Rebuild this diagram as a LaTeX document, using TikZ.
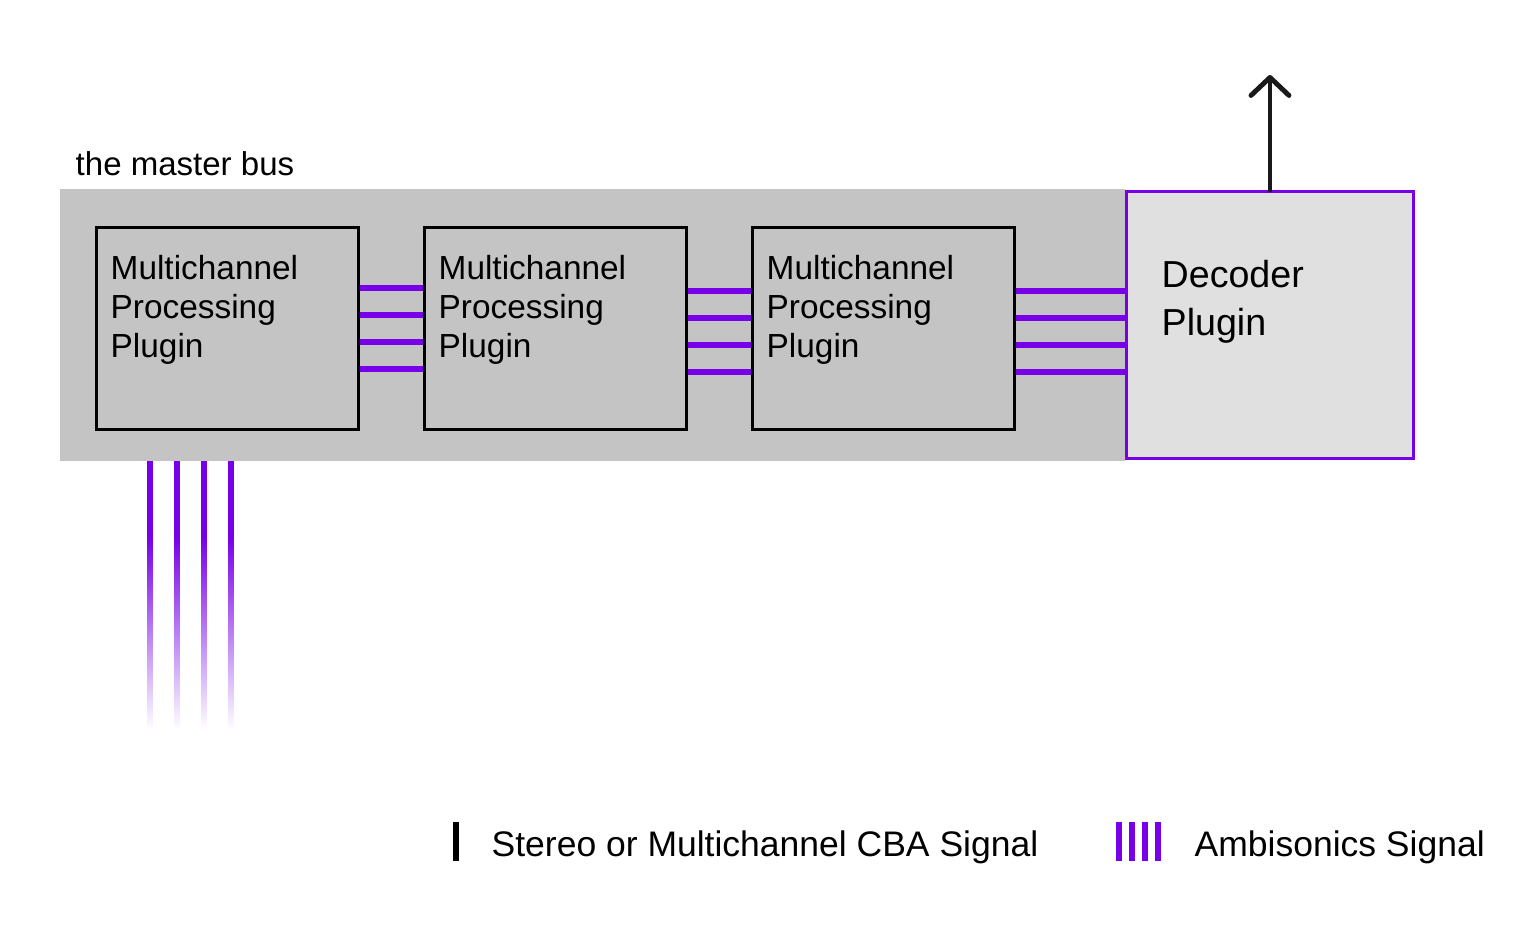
\documentclass[tikz,border=0pt]{standalone}
\usepackage{fontspec}
\setmainfont{Liberation Sans}
\usetikzlibrary{arrows.meta}

\definecolor{ambi}{HTML}{7700E8}
\definecolor{busgray}{HTML}{C4C4C4}
\definecolor{decgray}{HTML}{E0E0E0}
\definecolor{outblack}{HTML}{1A1A1A}

\tikzset{
    procbox/.style = {draw, line width=0.85pt, fill=busgray, minimum width=2.62cm, minimum height=2.02cm, inner sep=0pt},
    proctext/.style = {anchor=north west, align=left, inner sep=0pt, font=\fontsize{9.5}{11.1}\selectfont},
    wire/.style = {ambi, line width=1.5pt},
}

\begin{document}
\begin{tikzpicture}
    \useasboundingbox (0,0) rectangle (15.4,9.27);

    \node [fill=busgray, minimum width=10.65cm, minimum height=2.72cm, inner sep=0pt] (bus) at (5.925,6.02) {};
    \node [anchor=base west, inner sep=0pt, font=\fontsize{9.4}{11}\selectfont] (buslabel) at (0.75,7.51) {the master bus};

    \node [procbox] (p1) at (2.275,5.985) {};
    \node [procbox] (p2) at (5.555,5.985) {};
    \node [procbox] (p3) at (8.835,5.985) {};
    \node [draw=ambi, line width=0.85pt, fill=decgray, minimum width=2.87cm, minimum height=2.67cm, inner sep=0pt] (dec) at (12.70,6.02) {};

    \node [proctext] (t1) at ([shift={(0.15,-0.29)}]p1.north west) {Multichannel\\Processing\\Plugin};
    \node [proctext] (t2) at ([shift={(0.15,-0.29)}]p2.north west) {Multichannel\\Processing\\Plugin};
    \node [proctext] (t3) at ([shift={(0.15,-0.29)}]p3.north west) {Multichannel\\Processing\\Plugin};
    \node [anchor=north west, align=left, inner sep=0pt, font=\fontsize{10.7}{13.4}\selectfont] (tdec) at ([shift={(0.36,-0.70)}]dec.north west) {Decoder\\Plugin};

    % ambisonics wires between the plugins
    \foreach \dy in {0.405,0.135,-0.135,-0.405} {
        \draw [wire] ([yshift=\dy cm]p1.east) -- ([yshift=\dy cm]p2.west);
        \draw [wire] ([yshift=\dy cm-0.03cm]p2.east) -- ([yshift=\dy cm-0.03cm]p3.west);
        \draw [wire] ([yshift=\dy cm-0.03cm]p3.east) -- ([yshift=\dy cm-0.03cm]p3.east -| dec.west);
    }

    % input wires fading out
    \foreach \x in {1.50,1.77,2.04,2.31} {
        \coordinate (in\x) at (\x,3.90);
        \fill [ambi] (\x-0.027,4.66) rectangle (\x+0.027,3.90);
        \shade [top color=ambi, bottom color=white] (\x-0.027,3.90) rectangle (\x+0.027,1.97);
    }

    % output
    \coordinate (out) at ([yshift=1.15cm]dec.north);
    \draw [outblack, line width=1.4pt, line cap=round, -{Straight Barb[length=1.8mm, width=3.8mm, round]}] (dec.north) -- (out);

    % legend
    \draw [black, line width=1.7pt] (4.56,0.66) -- (4.56,1.05);
    \node [anchor=base west, inner sep=0pt, font=\fontsize{10.1}{12}\selectfont] (leg1) at (4.91,0.70) {Stereo or Multichannel CBA Signal};
    \foreach \x in {11.19,11.32,11.45,11.58}
        \draw [ambi, line width=1.7pt] (\x,0.66) -- (\x,1.05);
    \node [anchor=base west, inner sep=0pt, font=\fontsize{10.1}{12}\selectfont] (leg2) at (11.94,0.70) {Ambisonics Signal};
\end{tikzpicture}
\end{document}
